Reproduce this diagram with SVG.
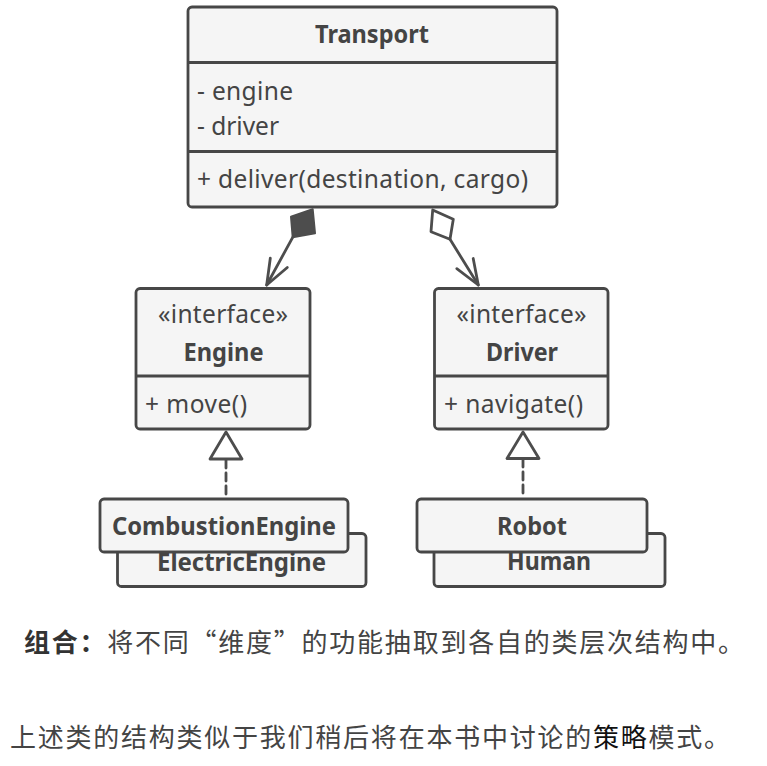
<svg xmlns="http://www.w3.org/2000/svg" width="767" height="766" viewBox="0 0 767 766">
<defs>
<style>
.box{fill:#f5f5f5;stroke:#474747;stroke-width:2.8}
.sep{stroke:#474747;stroke-width:2.8;fill:none}
.t{font-family:"Noto Sans","Liberation Sans",sans-serif;font-size:24.5px;fill:#444}
.b{font-family:"Noto Sans","Liberation Sans",sans-serif;font-size:25px;font-weight:bold;fill:#444}
.c{stroke:#4d4d4d;stroke-width:2.8;fill:none;stroke-linecap:round;stroke-linejoin:round}
.cn{font-family:"Noto Sans CJK SC","Noto Sans",sans-serif;font-size:26px;fill:#444}
</style>
</defs>
<rect width="767" height="766" fill="#ffffff"/>

<g id="transport">
<rect class="box" x="188" y="7" width="369" height="200" rx="4"/>
<line class="sep" x1="188" y1="62.5" x2="557" y2="62.5"/>
<line class="sep" x1="188" y1="151.5" x2="557" y2="151.5"/>
<text class="b" x="372" y="43" text-anchor="middle" textLength="114" lengthAdjust="spacingAndGlyphs">Transport</text>
<text class="t" x="197" y="100" textLength="96">- engine</text>
<text class="t" x="197" y="135" textLength="82">- driver</text>
<text class="t" x="197" y="188" textLength="331">+ deliver(destination, cargo)</text>
</g>

<g id="engine">
<rect class="box" x="136" y="288.5" width="174" height="140.5" rx="4"/>
<line class="sep" x1="136" y1="376" x2="310" y2="376"/>
<text class="t" x="223" y="323" text-anchor="middle" textLength="130">«interface»</text>
<text class="b" x="223.5" y="361" text-anchor="middle" textLength="80" lengthAdjust="spacingAndGlyphs">Engine</text>
<text class="t" x="145" y="413" textLength="102">+ move()</text>
</g>

<g id="driver">
<rect class="box" x="434.5" y="288.5" width="173.5" height="140.5" rx="4"/>
<line class="sep" x1="434.5" y1="376" x2="608" y2="376"/>
<text class="t" x="521.5" y="323" text-anchor="middle" textLength="130">«interface»</text>
<text class="b" x="522" y="361" text-anchor="middle" textLength="72" lengthAdjust="spacingAndGlyphs">Driver</text>
<text class="t" x="444" y="413" textLength="139">+ navigate()</text>
</g>

<g id="electric-engine">
<rect class="box" x="117.5" y="533.5" width="248.5" height="53" rx="4"/>
<text class="b" x="241.5" y="570.5" text-anchor="middle" textLength="169" lengthAdjust="spacingAndGlyphs">ElectricEngine</text>
</g>

<g id="combustion-engine">
<rect class="box" x="100" y="499" width="248" height="53" rx="4"/>
<text class="b" x="224" y="535" text-anchor="middle" textLength="224" lengthAdjust="spacingAndGlyphs">CombustionEngine</text>
</g>

<g id="human">
<rect class="box" x="434" y="533.5" width="231" height="53" rx="4"/>
<text class="b" x="549" y="570" text-anchor="middle" textLength="84" lengthAdjust="spacingAndGlyphs">Human</text>
</g>

<g id="robot">
<rect class="box" x="417" y="499" width="230" height="53" rx="4"/>
<text class="b" x="532" y="535" text-anchor="middle" textLength="70" lengthAdjust="spacingAndGlyphs">Robot</text>
</g>

<g id="connectors">
<polygon points="312.7,209.3 291,216.7 292.7,237.3 315,233.3" fill="#4d4d4d" stroke="#4d4d4d" stroke-width="2" stroke-linejoin="round"/>
<line class="c" x1="292.7" y1="237.3" x2="266.7" y2="285"/>
<polyline class="c" points="270.3,258.2 266.7,285 287.3,267.5"/>
<polygon points="432.7,210 453.3,219.3 450,239.3 431,231.7" fill="#ffffff" class="c"/>
<line class="c" x1="450" y1="239.3" x2="478.3" y2="285"/>
<polyline class="c" points="473.2,258.5 478.3,285 456.8,268.7"/>
<line class="c" x1="226" y1="460" x2="226" y2="497" stroke-dasharray="8,5" stroke-linecap="butt"/>
<polygon class="c" points="226,432 210,459 242,459" fill="#ffffff"/>
<line class="c" x1="523" y1="459" x2="523" y2="497" stroke-dasharray="8,5" stroke-linecap="butt"/>
<polygon class="c" points="523,432 507,458.5 539,458.5" fill="#ffffff"/>
</g>

<g id="caption">
<text class="cn" x="24" y="652" textLength="720"><tspan font-weight="bold" fill="#333">组合：</tspan>将不同“维度”的功能抽取到各自的类层次结构中。</text>
<text class="cn" x="10" y="747" textLength="720">上述类的结构类似于我们稍后将在本书中讨论的<tspan fill="#111">策略</tspan>模式。</text>
</g>
</svg>
